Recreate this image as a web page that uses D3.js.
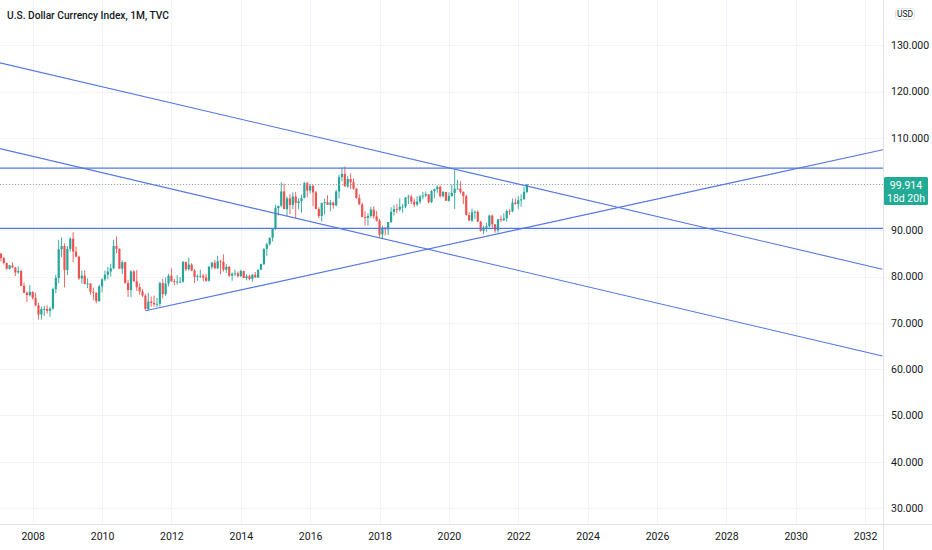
<!DOCTYPE html>
<html>
<head>
<meta charset="utf-8">
<script src="https://cdn.jsdelivr.net/npm/d3@7"></script>
<style>
  html, body { margin: 0; padding: 0; background: #ffffff; }
  svg { display: block; font-family: Roboto, "Noto Sans", sans-serif; }
</style>
</head>
<body>
<svg id="chart" width="932" height="550"></svg>
<script>
// ---- Data: monthly DXY candles, Jan 2007 .. Apr 2022 ----
const startYear = 2007;
const firstOpen = 83.65;
const closes = [
  84.95,84.0,82.95,81.7,82.4,82.0,80.9,81.2,78.0,76.5,76.0,76.7,   // 2007
  75.4,73.8,71.8,73.0,73.0,72.6,73.1,77.3,79.7,85.9,86.6,81.4,     // 2008
  86.0,88.2,85.4,84.3,79.6,80.2,78.4,78.5,76.7,76.5,74.7,77.9,     // 2009
  79.4,80.4,81.1,81.8,86.6,86.0,81.7,83.1,78.6,77.1,81.1,79.0,     // 2010
  77.7,76.8,75.9,73.0,74.6,74.3,74.0,74.1,78.6,76.2,78.5,80.2,     // 2011
  79.0,78.9,78.9,78.9,83.2,81.6,82.6,81.3,79.9,80.1,80.2,79.8,     // 2012
  79.1,82.1,83.0,81.8,83.3,83.2,81.5,82.1,80.2,80.6,80.7,80.1,     // 2013
  81.2,79.7,80.1,79.5,80.4,79.8,81.5,82.7,86.0,87.0,88.4,90.3,     // 2014
  94.8,95.3,98.4,94.6,96.9,95.5,97.3,95.9,96.3,97.0,100.2,98.6,    // 2015
  99.6,98.2,94.6,93.1,95.9,96.1,95.5,96.0,95.4,98.4,101.5,102.2,   // 2016
  99.5,101.1,100.4,99.0,97.0,95.6,92.9,92.7,93.1,94.5,93.0,92.1,   // 2017
  89.1,90.6,90.2,91.8,94.0,94.6,94.5,95.1,95.1,97.1,97.3,96.2,     // 2018
  95.6,96.2,97.3,97.5,97.8,96.1,98.5,98.9,99.4,97.4,98.3,96.4,     // 2019
  97.4,98.1,99.0,99.0,98.3,97.4,93.3,92.1,93.9,94.0,91.9,89.9,     // 2020
  90.6,90.9,93.2,91.3,90.0,92.4,92.2,92.6,94.2,94.1,96.0,95.7,     // 2021
  96.5,96.7,98.3,99.914                                            // 2022
];
const highs = [
  85.4,85.1,84.3,83.0,82.5,83.1,82.0,82.2,81.5,78.7,76.8,78.2,
  76.8,76.5,74.3,73.5,73.7,73.8,73.5,77.6,80.4,87.9,88.5,87.2,
  86.6,88.5,89.6,86.5,84.5,81.3,81.4,79.6,78.6,77.6,76.6,78.2,
  79.6,81.3,82.1,82.8,88.0,88.7,86.1,83.5,83.2,79.3,81.4,81.4,
  81.4,78.5,77.3,76.2,76.5,75.7,75.9,75.4,78.9,79.5,79.8,80.6,
  81.8,79.5,80.3,79.9,83.3,83.0,84.1,82.9,81.6,80.5,81.5,80.6,
  80.6,82.3,83.2,83.6,84.5,83.6,84.8,82.7,82.3,80.9,81.5,81.1,
  81.5,81.3,80.5,80.4,80.6,81.0,81.5,82.8,86.1,87.3,88.4,90.3,
  95.5,95.3,100.4,100.1,97.3,97.8,98.2,98.3,96.9,97.7,100.5,100.5,
  100.0,99.9,98.5,95.0,96.0,96.9,97.6,96.6,96.2,98.8,102.0,103.6,
  103.8,101.8,102.3,101.2,99.2,97.8,96.0,94.1,93.7,95.1,95.2,94.2,
  92.5,91.0,90.6,91.8,95.0,95.5,95.7,96.9,95.7,97.2,97.7,97.7,
  96.9,97.4,97.7,98.3,98.4,97.8,98.7,99.0,99.7,99.7,98.5,98.3,
  98.2,99.9,103.0,100.9,100.6,98.4,97.7,93.9,94.7,94.3,94.3,92.0,
  91.0,91.6,93.4,93.4,91.4,92.4,93.2,93.7,94.5,94.6,96.9,96.9,
  97.4,97.8,99.4,100.0
];
const lows = [
  83.5,83.3,82.6,81.5,81.5,81.8,80.1,80.6,77.9,76.4,74.5,75.7,
  75.0,73.6,70.7,70.7,71.5,72.0,71.3,72.8,76.4,78.6,84.2,77.7,
  80.3,85.4,83.1,84.2,79.3,78.5,78.3,77.5,76.1,74.9,74.2,74.6,
  76.6,79.0,79.4,80.0,81.6,85.0,81.7,80.5,78.5,75.6,75.6,78.9,
  76.9,76.1,75.6,72.8,72.7,73.5,73.5,73.4,73.5,75.3,75.8,77.9,
  78.9,78.1,78.3,78.6,78.7,81.2,81.3,81.2,78.6,79.1,79.7,79.0,
  78.9,78.9,81.6,81.6,81.6,80.5,81.1,80.8,79.9,79.1,80.1,79.8,
  79.9,79.7,79.2,79.2,78.9,79.8,79.7,81.4,82.5,84.5,86.7,87.6,
  90.1,93.2,95.1,94.6,93.1,93.5,94.6,92.6,94.5,93.8,96.9,97.2,
  98.0,95.2,94.6,92.6,91.9,93.4,95.5,94.1,94.7,95.2,96.9,100.6,
  99.5,99.2,98.9,98.8,96.8,95.5,92.8,91.0,91.0,92.7,92.5,91.9,
  88.4,88.3,88.9,89.0,91.6,93.2,93.7,94.1,93.8,94.8,95.7,95.7,
  95.0,95.2,95.7,96.7,97.2,95.8,95.9,97.0,98.1,97.1,97.1,96.4,
  96.2,97.3,94.6,98.8,97.9,95.7,93.2,92.1,91.8,92.5,91.8,89.7,
  89.2,89.7,90.6,90.4,89.5,89.5,91.8,92.0,91.9,93.3,93.9,95.5,
  94.6,95.1,96.7,98.0
];
const yTicks = [130,120,110,100,90,80,70,60,50,40,30];
const yTickLabels = ["130.000","120.000","110.000",null,"90.000","80.000","70.000","60.000","50.000","40.000","30.000"];
const xTickYears = [2008,2010,2012,2014,2016,2018,2020,2022,2024,2026,2028,2030,2032];
// Drawn lines: [month index (0 = Jan 2007), value]
const trendUpper = [[0,126.3],[306,81.6]];
const trendLower = [[0,107.76],[306,62.83]];
const trendRising = [[51,72.6],[306.2,107.44]];
const levels = [103.45, 90.43];
const lastPrice = 99.914;
const lastLabel = ["99.914","18d 20h"];
const title = "U.S. Dollar Currency Index, 1M, TVC";
const currency = "USD";

// ---- Build candles ----
const candles = closes.map((c, i) => ({
  i, o: i === 0 ? firstOpen : closes[i-1], h: highs[i], l: lows[i], c
}));

// ---- Layout ----
const W = 932, H = 550;
const plotR = 883, plotB = 524;
const svg = d3.select("#chart");

const x = d3.scaleLinear().domain([0.69, 306.2]).range([0, plotR]);
const y = d3.scaleLinear().domain([30, 130]).range([507.9, 45.3]);

// clip
svg.append("defs").append("clipPath").attr("id","plotclip")
  .append("rect").attr("x",0).attr("y",0).attr("width",plotR).attr("height",plotB);

// grid
const grid = svg.append("g");
grid.selectAll("line.h").data(yTicks).join("line")
  .attr("x1",0).attr("x2",plotR)
  .attr("y1",d=>Math.round(y(d))+0.5).attr("y2",d=>Math.round(y(d))+0.5)
  .attr("stroke","#f0f3fa").attr("stroke-width",1);
grid.selectAll("line.v").data(xTickYears).join("line")
  .attr("x1",d=>Math.round(x((d-startYear)*12))+0.5).attr("x2",d=>Math.round(x((d-startYear)*12))+0.5)
  .attr("y1",0).attr("y2",plotB)
  .attr("stroke","#f0f3fa").attr("stroke-width",1);

const plot = svg.append("g").attr("clip-path","url(#plotclip)");

// candles
const up = "#26a69a", down = "#ef5350";
const cg = plot.append("g");
cg.selectAll("line.w").data(candles).join("line")
  .attr("x1",d=>x(d.i)).attr("x2",d=>x(d.i))
  .attr("y1",d=>y(d.h)).attr("y2",d=>y(d.l))
  .attr("stroke",d=>d.c>=d.o?up:down).attr("stroke-width",0.9);
cg.selectAll("rect").data(candles).join("rect")
  .attr("x",d=>x(d.i)-1.1).attr("width",2.2)
  .attr("y",d=>y(Math.max(d.o,d.c)))
  .attr("height",d=>Math.max(0.8, Math.abs(y(d.o)-y(d.c))))
  .attr("fill",d=>d.c>=d.o?up:down);

// price line (dotted)
plot.append("line")
  .attr("x1",0).attr("x2",plotR)
  .attr("y1",y(lastPrice)).attr("y2",y(lastPrice))
  .attr("stroke","#9aa6a6").attr("stroke-width",1).attr("stroke-dasharray","1,2");

// drawn lines
const lineColor = "#5276e6";
const lg = plot.append("g");
const lineGen = d3.line().x(d=>x(d[0])).y(d=>y(d[1]));
[trendUpper, trendLower, trendRising].forEach(pts => {
  lg.append("path").attr("d", lineGen(pts))
    .attr("fill","none").attr("stroke",lineColor).attr("stroke-width",1.1);
});
lg.selectAll("line.lvl").data(levels).join("line")
  .attr("x1",0).attr("x2",plotR)
  .attr("y1",d=>y(d)).attr("y2",d=>y(d))
  .attr("stroke",lineColor).attr("stroke-width",1.3);

// axes borders
svg.append("line").attr("x1",plotR+0.5).attr("x2",plotR+0.5).attr("y1",0).attr("y2",H)
  .attr("stroke","#e0e3eb");
svg.append("line").attr("x1",0).attr("x2",W).attr("y1",plotB+0.5).attr("y2",plotB+0.5)
  .attr("stroke","#e0e3eb");

// y axis labels
const yAxis = d3.axisRight(y).tickValues(yTicks.filter((d,i)=>yTickLabels[i]))
  .tickFormat(d => yTickLabels[yTicks.indexOf(d)]).tickSize(0).tickPadding(8);
const ya = svg.append("g").attr("transform",`translate(${plotR},0)`).call(yAxis);
ya.select(".domain").remove();
ya.selectAll("text").attr("fill","#131722").attr("font-size","10.5px")
  .attr("font-family","Roboto, sans-serif");

// x axis labels
const xAxis = d3.axisBottom(x).tickValues(xTickYears.map(d=>(d-startYear)*12))
  .tickFormat(d => String(startYear + d/12)).tickSize(0).tickPadding(9);
const xa = svg.append("g").attr("transform",`translate(0,${plotB})`).call(xAxis);
xa.select(".domain").remove();
xa.selectAll("text").attr("fill","#131722").attr("font-size","10.5px")
  .attr("font-family","Roboto, sans-serif");

// last price label
const ly = y(lastPrice);
svg.append("rect").attr("x",plotR+1).attr("y",ly-7.5).attr("width",44).attr("height",28)
  .attr("rx",1.5).attr("fill","#22ab94");
svg.append("text").attr("x",plotR+23).attr("y",ly+4.5).attr("text-anchor","middle")
  .attr("fill","#ffffff").attr("font-size","10.5px").text(lastLabel[0]);
svg.append("text").attr("x",plotR+23).attr("y",ly+17.5).attr("text-anchor","middle")
  .attr("fill","#ffffff").attr("font-size","10.5px").text(lastLabel[1]);

// currency box
svg.append("rect").attr("x",895.5).attr("y",8.5).attr("width",19).attr("height",11)
  .attr("rx",3).attr("fill","#ffffff").attr("stroke","#e0e3eb");
svg.append("text").attr("x",905).attr("y",17).attr("text-anchor","middle")
  .attr("fill","#131722").attr("font-size","8.5px").text(currency);

// title
svg.append("text").attr("x",7).attr("y",19).attr("fill","#131722")
  .attr("font-size","11.5px").attr("font-weight",500)
  .attr("textLength",162).attr("lengthAdjust","spacingAndGlyphs").text(title);
</script>
</body>
</html>
